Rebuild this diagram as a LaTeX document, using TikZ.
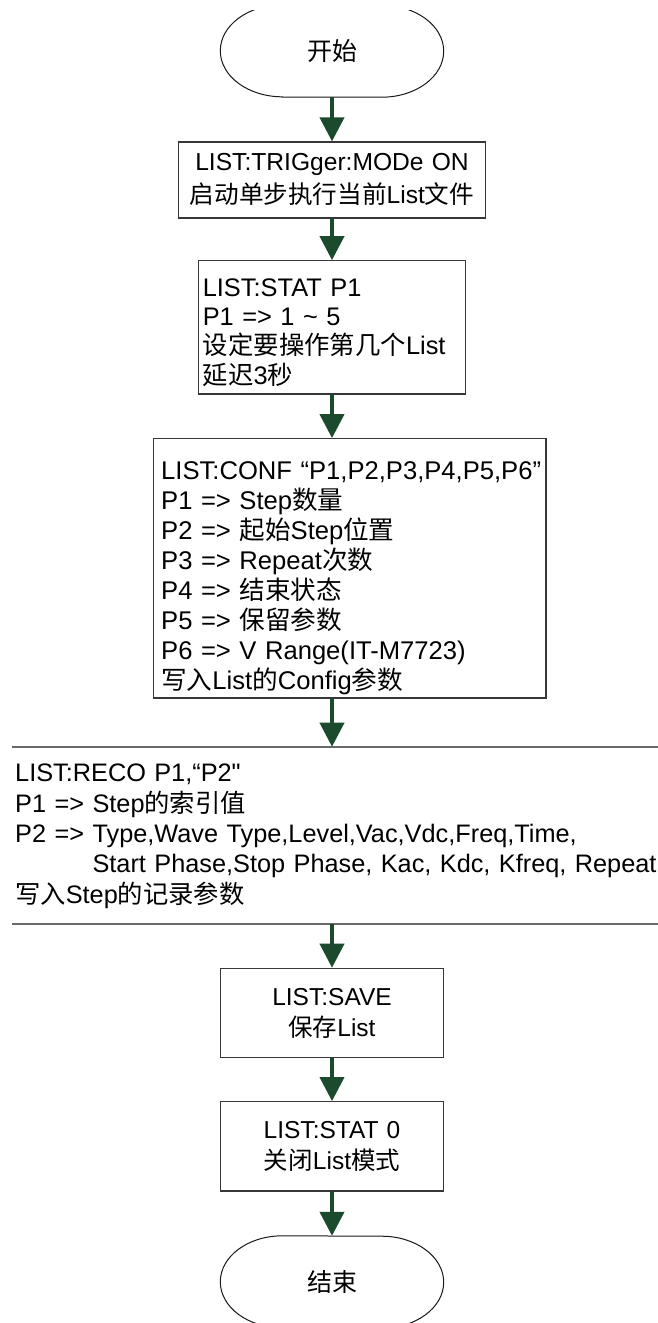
\documentclass[tikz,border=0pt]{standalone}
\usepackage{fontspec}
\setmainfont{Liberation Sans}[Ligatures=TeXOff]
\newfontfamily\cjk{Noto Sans CJK SC}
\usetikzlibrary{arrows.meta}
\definecolor{arrowgreen}{RGB}{28,74,44}
\definecolor{boxline}{RGB}{55,55,55}
\definecolor{rulegray}{RGB}{105,105,105}
\newcommand\zh[1]{{\cjk #1}}
% terminator outline: straight top/bottom with elliptic ends
\newcommand\stadium[1]{%
  \draw[termline] ([xshift=62pt]#1.south west) -- ([xshift=-62pt]#1.south east)
    arc[start angle=-90,end angle=90,x radius=62pt,y radius=46pt]
    -- ([xshift=62pt]#1.north west)
    arc[start angle=90,end angle=270,x radius=62pt,y radius=46pt] -- cycle;}
\begin{document}
\begin{tikzpicture}[x=1pt,y=-1pt,
  term/.style={rectangle,minimum width=223pt,minimum height=92pt,inner sep=0pt,
    font=\fontsize{25pt}{29pt}\selectfont\cjk},
  termline/.style={draw=black!90,line width=1pt},
  box/.style={rectangle,draw=boxline,line width=1.2pt,inner sep=0pt},
  txt/.style={inner sep=0pt},
  arr/.style={draw=arrowgreen,line width=4pt,-{Triangle[length=24pt,width=24pt]}},
  rule/.style={draw=rulegray,line width=1.6pt}]
\fill[white] (0,0) rectangle (658,1323);
\useasboundingbox (0,0) rectangle (658,1323);
\clip (0,10) rectangle (658,1323);

% start
\node[term] (start) at (332,51) {开始};
\stadium{start}

% step 1
\node[box,minimum width=307pt,minimum height=76pt] (b1) at (332,180) {};
\node[txt,text width=307pt,align=center,anchor=base,
  font=\fontsize{24.6pt}{33.5pt}\selectfont] (t1) at ([yshift=-28.7pt]b1.north)
  {LIST:TRIGger:MODe ON\\\zh{启动单步执行当前}List\zh{文件}};

% step 2
\node[box,minimum width=267.6pt,minimum height=133.3pt] (b2) at (332,327.4) {};
\node[txt,text width=300pt,align=left,anchor=base west,
  font=\fontsize{25.4pt}{29.3pt}\selectfont] (t2) at ([xshift=5pt,yshift=-36pt]b2.north west)
  {LIST:STAT P1\\P1 => 1 \textasciitilde{} 5\\\zh{设定要操作第几个}List\\\zh{延迟}3\zh{秒}};

% step 3
\node[box,minimum width=392.7pt,minimum height=259.3pt] (b3) at (349.65,568.35) {};
\node[txt,text width=420pt,align=left,anchor=base west,
  font=\fontsize{25.6pt}{30pt}\selectfont] (t3) at ([xshift=8.3pt,yshift=-41.3pt]b3.north west)
  {LIST:CONF “P1,P2,P3,P4,P5,P6”\\
   P1 => Step\zh{数量}\\
   P2 => \zh{起始}Step\zh{位置}\\
   P3 => Repeat\zh{次数}\\
   P4 => \zh{结束状态}\\
   P5 => \zh{保留参数}\\
   P6 => V Range(IT-M7723)\\
   \zh{写入}List\zh{的}Config\zh{参数}};

% step 4: open section between two rules
\coordinate (r1L) at (12,746.7);
\coordinate (r1R) at (660,746.7);
\coordinate (r2L) at (12,924);
\coordinate (r2R) at (660,924);
\draw[rule] (r1L) -- (r1R);
\draw[rule] (r2L) -- (r2R);
\node[txt,text width=700pt,align=left,anchor=base west,
  font=\fontsize{25.3pt}{30.4pt}\selectfont] (t4) at ([xshift=3pt,yshift=-35pt]r1L)
  {LIST:RECO P1,“P2"\\
   P1 => Step\zh{的索引值}\\
   P2 => Type,Wave Type,Level,Vac,Vdc,Freq,Time,\\
   \hphantom{P2 => }Start Phase,Stop Phase, Kac, Kdc, Kfreq, Repeat\\
   \zh{写入}Step\zh{的记录参数}};

% step 5
\node[box,minimum width=222.3pt,minimum height=89pt] (b5) at (332,1012.8) {};
\node[txt,text width=222pt,align=center,anchor=base,
  font=\fontsize{24.5pt}{30.7pt}\selectfont] (t5) at ([yshift=-37.7pt]b5.north)
  {LIST:SAVE\\\zh{保存}List};

% step 6
\node[box,minimum width=222.3pt,minimum height=89.3pt] (b6) at (332,1146.35) {};
\node[txt,text width=222pt,align=center,anchor=base,
  font=\fontsize{24.5pt}{30.7pt}\selectfont] (t6) at ([yshift=-37.6pt]b6.north)
  {LIST:STAT 0\\\zh{关闭}List\zh{模式}};

% end
\node[term] (stop) at (332,1282) {结束};
\stadium{stop}

% connectors
\draw[arr] (start.south) -- (b1.north);
\draw[arr] (b1.south) -- (b2.north);
\draw[arr] (b2.south) -- (b2.south |- b3.north);
\draw[arr] (b3.south -| b2.south) -- (r1L -| b2.south);
\draw[arr] (r2L -| b5.north) -- (b5.north);
\draw[arr] (b5.south) -- (b6.north);
\draw[arr] (b6.south) -- (stop.north);
\end{tikzpicture}
\end{document}
